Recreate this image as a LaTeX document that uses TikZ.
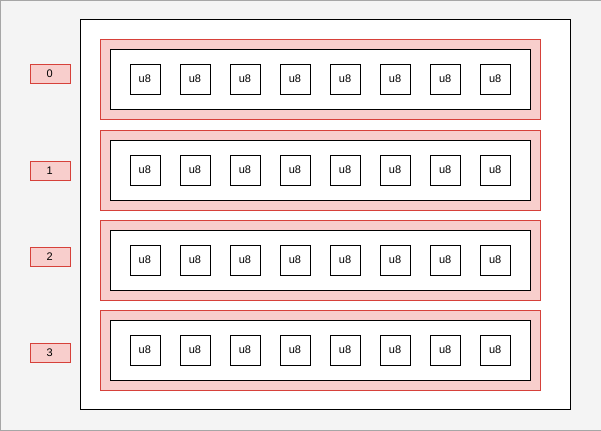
\documentclass[tikz,border=0pt]{standalone}
\usepackage{fontspec}
\setmainfont{Liberation Sans}
\definecolor{pinkf}{HTML}{F8CECC}
\definecolor{pinkd}{HTML}{D6413A}
\definecolor{bgc}{HTML}{F4F4F4}
\begin{document}
\begin{tikzpicture}[x=1pt,y=-1pt,
  cell/.style={draw=black,fill=white,minimum width=30pt,minimum height=30pt,inner sep=0pt,font=\fontsize{11}{13}\selectfont},
  lbl/.style={draw=pinkd,fill=pinkf,minimum width=40pt,minimum height=19pt,inner sep=0pt,font=\fontsize{11}{13}\selectfont},
  row/.style={draw=pinkd,fill=pinkf},
  inner/.style={draw=black,fill=white}]
\path[draw=gray!70,fill=bgc] (0.5,0.5) rectangle (600.5,430.5);
\node[draw=black,fill=white,minimum width=490pt,minimum height=390pt,inner sep=0pt,anchor=north west] (outer) at (80,19) {};
\foreach \r/\y/\ly in {0/39/73.5,1/130/170.5,2/220/256.5,3/310/352.5}{
  \node[row,minimum width=440pt,minimum height=80pt,inner sep=0pt,anchor=north west] (row\r) at (100,\y) {};
  \node[inner,minimum width=420pt,minimum height=60pt,inner sep=0pt,anchor=north west] (in\r) at (110,\y+10) {};
  \foreach \c in {0,...,7}{
    \node[cell] (c\r\c) at (145+50*\c,\y+40) {u8};
  }
  \node[lbl] (l\r) at (50,\ly) {\r};
}
\end{tikzpicture}
\end{document}
